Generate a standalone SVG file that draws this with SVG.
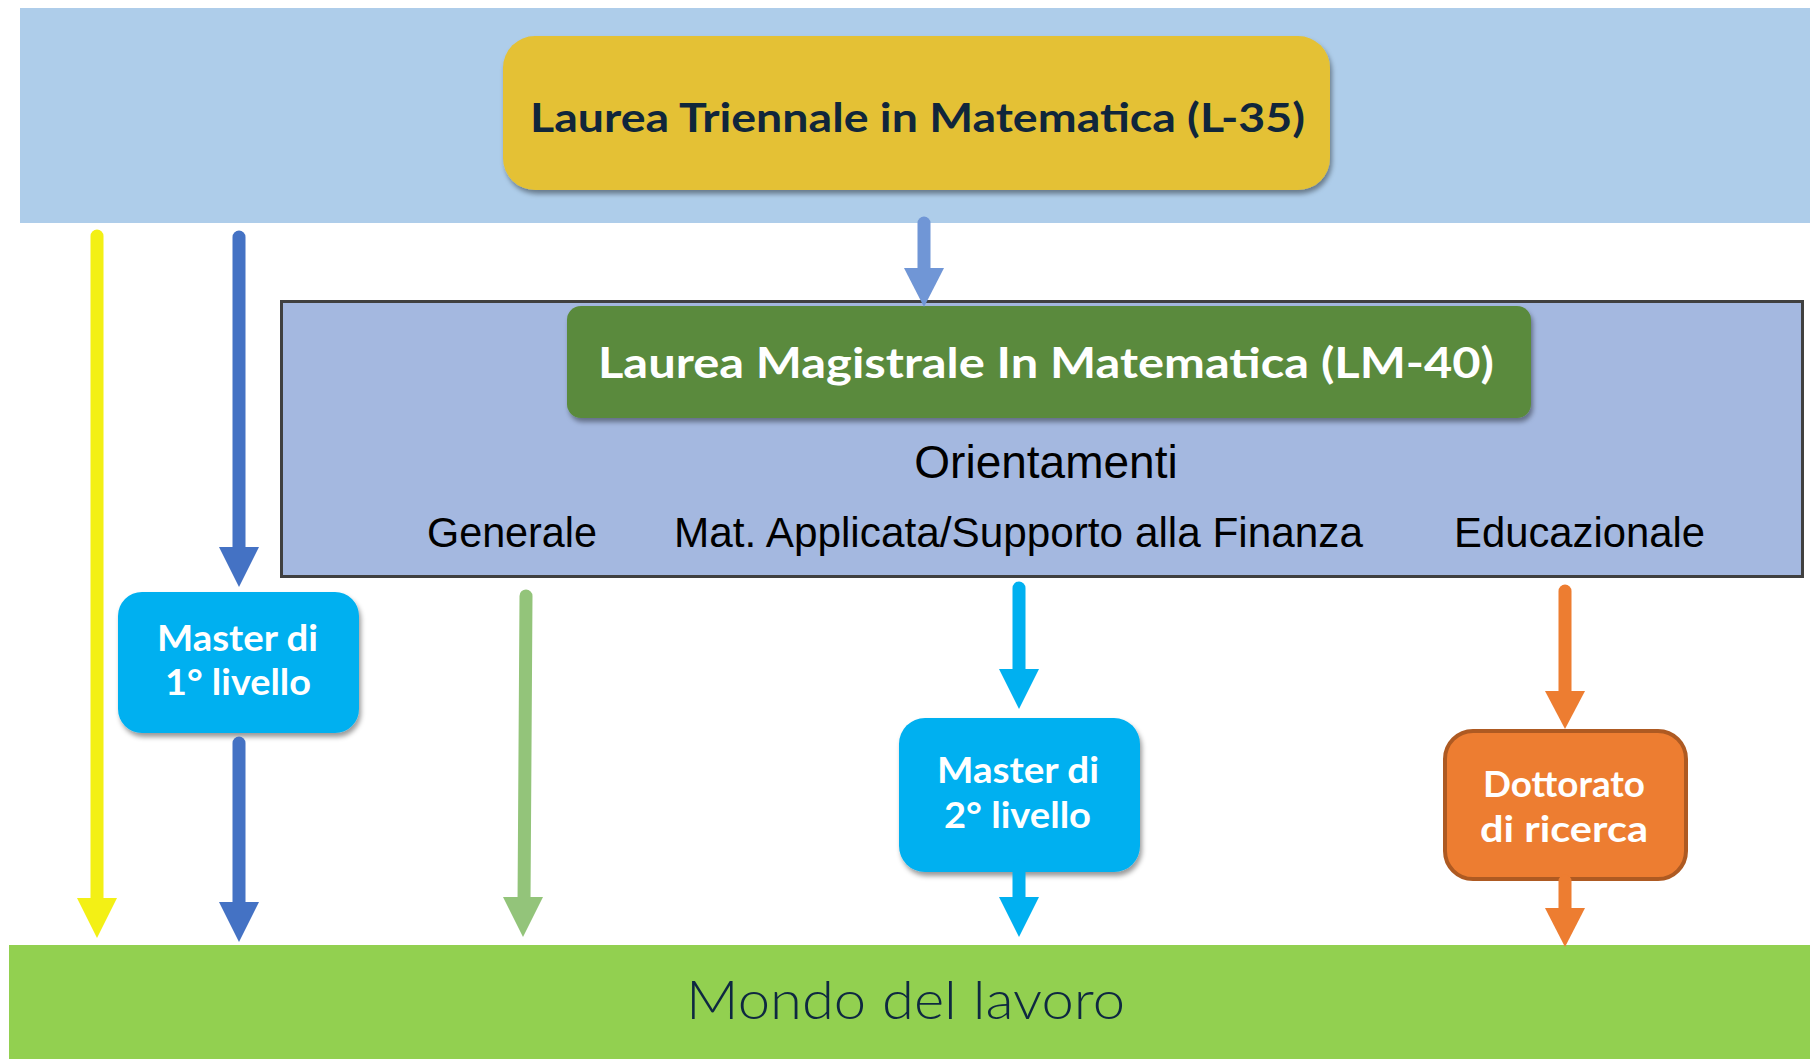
<svg xmlns="http://www.w3.org/2000/svg" width="1810" height="1059" viewBox="0 0 1810 1059">
<defs>
<filter id="sh" x="-10%" y="-10%" width="120%" height="130%">
<feDropShadow dx="2" dy="4" stdDeviation="2.5" flood-color="#000" flood-opacity="0.4"/>
</filter>
</defs>
<style>
.bold{font-family:Lato,"Open Sans","DejaVu Sans",sans-serif;font-weight:bold}
.arial{font-family:"Liberation Sans",Arial,sans-serif;fill:#000}
.wt{fill:#fff;font-size:36px;text-anchor:start}
.shaft{stroke-width:13;stroke-linecap:round;fill:none}
</style>
<rect x="0" y="0" width="1810" height="1059" fill="#ffffff"/>
<g id="band-top"><rect x="20" y="8" width="1790" height="215" fill="#AECDEA"/></g>
<g id="band-bottom">
<rect x="9" y="945" width="1801" height="114" fill="#92D050"/>
<text x="686" y="1019" font-family="Lato,'Open Sans',sans-serif" font-weight="300" font-size="54" fill="#0E2841" textLength="439" lengthAdjust="spacingAndGlyphs">Mondo del lavoro</text>
</g>
<g id="node-triennale">
<rect x="503" y="36" width="827" height="154" rx="32" fill="#E4C134" filter="url(#sh)"/>
<text class="bold" x="530" y="132" font-size="40" fill="#10263B" textLength="775" lengthAdjust="spacingAndGlyphs">Laurea Triennale in Matematica (L-35)</text>
</g>
<g id="node-magistrale-box">
<rect x="281.5" y="301.5" width="1521" height="275" fill="#A4B8E0" stroke="#404040" stroke-width="3"/>
<text class="arial" x="1046" y="478" font-size="46" text-anchor="middle">Orientamenti</text>
<text class="arial" x="427" y="547" font-size="42" textLength="170" lengthAdjust="spacingAndGlyphs">Generale</text>
<text class="arial" x="674" y="547" font-size="42" textLength="689" lengthAdjust="spacingAndGlyphs">Mat. Applicata/Supporto alla Finanza</text>
<text class="arial" x="1454" y="547" font-size="42" textLength="251" lengthAdjust="spacingAndGlyphs">Educazionale</text>
</g>
<g id="node-magistrale">
<rect x="567" y="306" width="964" height="112" rx="14" fill="#5A8A3C" filter="url(#sh)"/>
<text class="bold" x="598" y="378" font-size="42" fill="#fff" textLength="896" lengthAdjust="spacingAndGlyphs">Laurea Magistrale In Matematica (LM-40)</text>
</g>
<g id="node-master1">
<rect x="118" y="592" width="241" height="141" rx="24" fill="#00B0F0" filter="url(#sh)"/>
<text class="bold wt" x="157" y="651" textLength="161" lengthAdjust="spacingAndGlyphs">Master di</text>
<text class="bold wt" x="165" y="695" textLength="146" lengthAdjust="spacingAndGlyphs">1° livello</text>
</g>
<g id="node-master2">
<rect x="899" y="718" width="241" height="154" rx="26" fill="#00B0F0" filter="url(#sh)"/>
<text class="bold wt" x="937" y="783" textLength="162" lengthAdjust="spacingAndGlyphs">Master di</text>
<text class="bold wt" x="944" y="828" textLength="147" lengthAdjust="spacingAndGlyphs">2° livello</text>
</g>
<g id="node-dottorato">
<rect x="1445" y="731" width="241" height="148" rx="28" fill="#ED7D31" stroke="#AE5A22" stroke-width="4"/>
<text class="bold wt" x="1483" y="797" textLength="162" lengthAdjust="spacingAndGlyphs">Dottorato</text>
<text class="bold wt" x="1480" y="842" textLength="168" lengthAdjust="spacingAndGlyphs">di ricerca</text>
</g>
<g id="connectors">
<g stroke="#F3F015" fill="#F3F015">
<line class="shaft" x1="97" y1="236" x2="97" y2="905"/>
<polygon points="77,898 117,898 97,938" stroke="none"/>
</g>
<g stroke="#4472C4" fill="#4472C4">
<line class="shaft" x1="239" y1="237" x2="239" y2="554"/>
<polygon points="219,547 259,547 239,587" stroke="none"/>
<line class="shaft" x1="239" y1="743" x2="239" y2="909"/>
<polygon points="219,902 259,902 239,942" stroke="none"/>
</g>
<g stroke="#7096D6" fill="#7096D6">
<line class="shaft" x1="924" y1="223" x2="924" y2="275" stroke-width="12"/>
<polygon points="904,268 944,268 924,307" stroke="none"/>
</g>
<g stroke="#93C47A" fill="#93C47A">
<line class="shaft" x1="526" y1="596" x2="524" y2="904"/>
<polygon points="503,897 543,897 523,937" stroke="none"/>
</g>
<g stroke="#00B0F0" fill="#00B0F0">
<line class="shaft" x1="1019" y1="588" x2="1019" y2="676"/>
<polygon points="999,669 1039,669 1019,709" stroke="none"/>
<line class="shaft" x1="1019" y1="866" x2="1019" y2="904" stroke-linecap="butt"/>
<polygon points="999,897 1039,897 1019,937" stroke="none"/>
</g>
<g stroke="#ED7D31" fill="#ED7D31">
<line class="shaft" x1="1565" y1="591" x2="1565" y2="698"/>
<polygon points="1545,691 1585,691 1565,729" stroke="none"/>
<line class="shaft" x1="1565" y1="881" x2="1565" y2="914" stroke-linecap="butt"/>
<polygon points="1545,908 1585,908 1565,947" stroke="none"/>
</g>
</g>
</svg>
